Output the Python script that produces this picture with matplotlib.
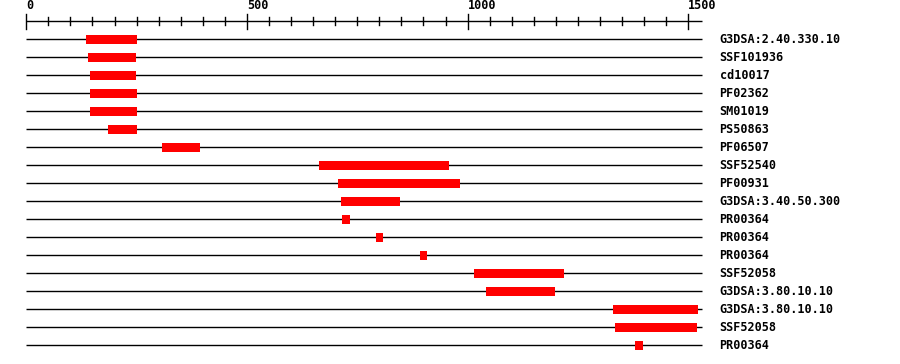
import matplotlib
matplotlib.use('Agg')
import matplotlib.pyplot as plt


SEQ_LENGTH = 1530
LABELS = [
    'G3DSA:2.40.330.10', 'SSF101936', 'cd10017', 'PF02362', 'SM01019',
    'PS50863', 'PF06507', 'SSF52540', 'PF00931', 'G3DSA:3.40.50.300',
    'PR00364', 'PR00364', 'PR00364', 'SSF52058', 'G3DSA:3.80.10.10',
    'G3DSA:3.80.10.10', 'SSF52058', 'PR00364',
]
STARTS = [135, 140, 144, 144, 144, 185, 308, 663, 706, 713,
          715, 792, 892, 1014, 1042, 1330, 1334, 1379]
ENDS = [251, 249, 249, 251, 251, 251, 394, 958, 983, 847,
        734, 808, 908, 1218, 1198, 1522, 1520, 1397]
MAJOR_TICKS = [0, 500, 1000, 1500]
MINOR_STEP = 50

RED = '#ff0000'
FONT = dict(family='DejaVu Sans Mono', fontweight='bold', fontsize=8.5)


def main():
    fig = plt.figure(figsize=(9, 3.64), dpi=100)
    ax = fig.add_axes([0, 0, 1, 1])
    # pixel mapping: x_px = 26.3 + 0.4413 * residue, row i at 39.3 + 18 * i
    ax.set_xlim(-59.6, 1979.8)
    ax.set_ylim(18.04, -2.18)
    ax.axis('off')

    # ruler
    ax.plot([0, SEQ_LENGTH], [-1, -1], color='black', lw=1, solid_capstyle='butt')
    for t in range(0, SEQ_LENGTH + 1, MINOR_STEP):
        if t in MAJOR_TICKS:
            ax.plot([t, t], [-1.41, -0.57], color='black', lw=1)
        else:
            ax.plot([t, t], [-1.22, -0.79], color='black', lw=1)
    for t in MAJOR_TICKS:
        ax.text(t, -1.5, str(t), ha='left', va='bottom', **FONT)

    for i, (label, s, e) in enumerate(zip(LABELS, STARTS, ENDS)):
        ax.plot([0, SEQ_LENGTH], [i, i], color='black', lw=1, solid_capstyle='butt')
        ax.barh(i, e - s, left=s, height=0.5, color=RED, zorder=3)
        ax.text(1571, i, label, ha='left', va='center', **FONT)

    fig.savefig('out.png', dpi=100, facecolor='white')


if __name__ == '__main__':
    main()
